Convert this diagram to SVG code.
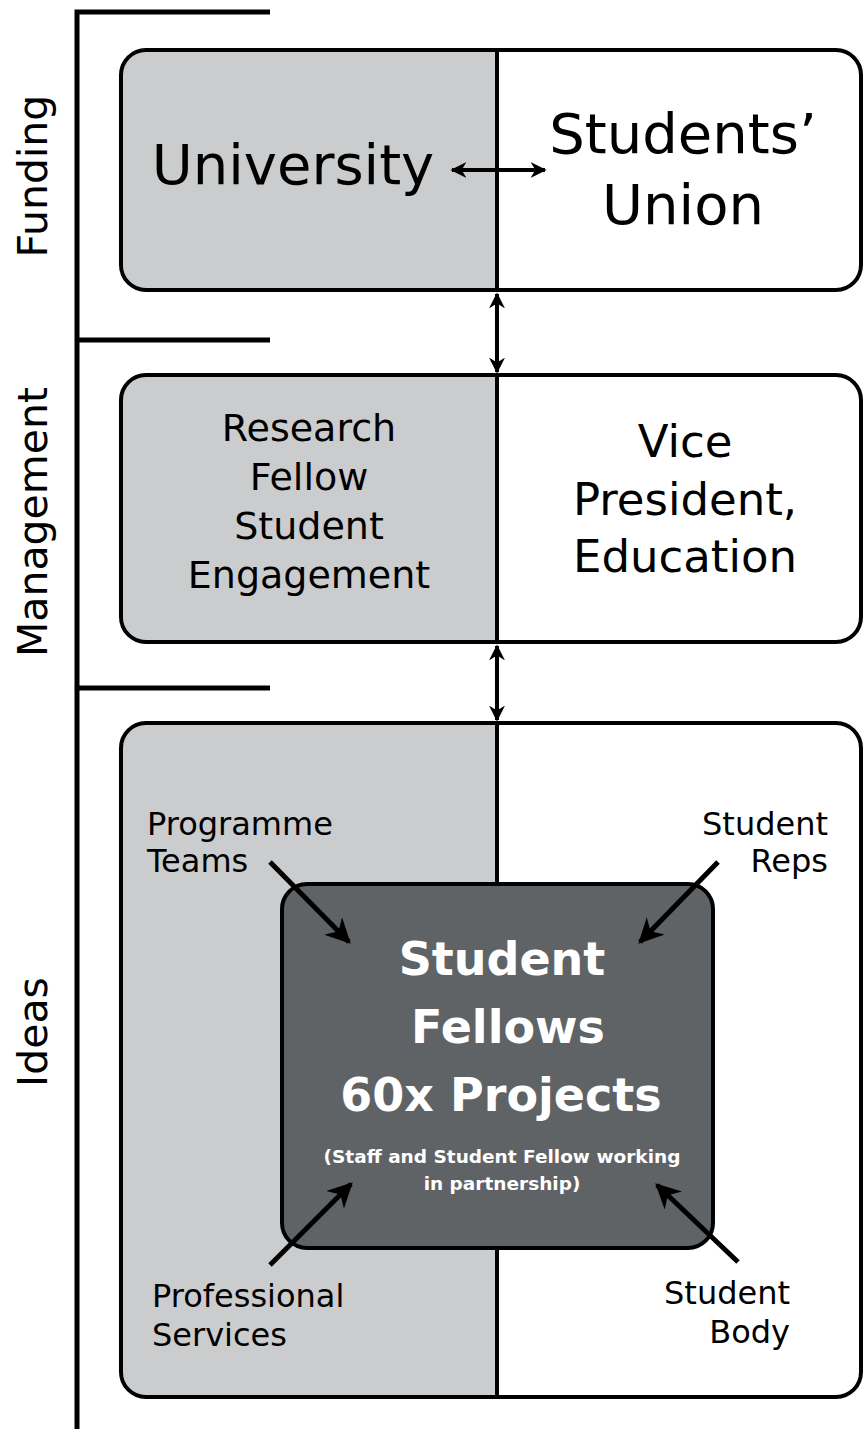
<svg xmlns="http://www.w3.org/2000/svg" width="865" height="1429" viewBox="0 0 865 1429">
<style>
.frame{stroke:#000;stroke-width:5;fill:none}
.left{fill:#cbcccd}
.outline{fill:none;stroke:#000;stroke-width:4}
.div{stroke:#000;stroke-width:4}
.t{font-family:"DejaVu Sans","Liberation Sans",Arial,sans-serif;fill:#000}
.side{font-size:41px}
.big{font-size:56px}
.mgl{font-size:38px}
.mgr{font-size:45px}
.sm{font-size:32px}
.w{fill:#fff;font-weight:bold}
.wb{font-size:46px}
.ws{font-size:18.5px}
.con{stroke:#000;stroke-width:5;fill:none}
.con2{stroke:#000;stroke-width:4;fill:none}
</style>
<defs>
<marker id="ah" viewBox="0 0 10 10" refX="9" refY="5" markerWidth="5" markerHeight="5" orient="auto-start-reverse" markerUnits="strokeWidth">
<path d="M0,0 L10,5 L0,10 L3,5 Z" fill="#000"/>
</marker>
<marker id="ah2" viewBox="0 0 10 10" refX="9" refY="5" markerWidth="4" markerHeight="4" orient="auto-start-reverse" markerUnits="strokeWidth">
<path d="M0,0 L10,5 L0,10 L3,5 Z" fill="#000"/>
</marker>
</defs>
<rect width="865" height="1429" fill="#fff"/>
<g id="frame">
<path class="frame" d="M77,1429 V12 H270 M77,340 H270 M77,688 H270"/>
<text class="t side" transform="translate(47,176) rotate(-90)" text-anchor="middle">Funding</text>
<text class="t side" transform="translate(47,522) rotate(-90)" text-anchor="middle">Management</text>
<text class="t side" transform="translate(47,1032) rotate(-90)" text-anchor="middle">Ideas</text>
</g>
<g id="funding">
<path class="left" d="M146,52 H497 V288 H146 A23,23 0 0 1 123,265 V75 A23,23 0 0 1 146,52 Z"/>
<rect class="outline" x="121" y="50" width="740" height="240" rx="25"/>
<line class="div" x1="497" y1="50" x2="497" y2="290"/>
<text class="t big" x="293" y="184" text-anchor="middle">University</text>
<text class="t big" x="683" y="153" text-anchor="middle">Students’</text>
<text class="t big" x="683" y="224" text-anchor="middle">Union</text>
</g>
<g id="management">
<path class="left" d="M146,377 H497 V640 H146 A23,23 0 0 1 123,617 V400 A23,23 0 0 1 146,377 Z"/>
<rect class="outline" x="121" y="375" width="740" height="267" rx="25"/>
<line class="div" x1="497" y1="375" x2="497" y2="642"/>
<text class="t mgl" x="309" y="441" text-anchor="middle">Research</text>
<text class="t mgl" x="309" y="490" text-anchor="middle">Fellow</text>
<text class="t mgl" x="309" y="539" text-anchor="middle">Student</text>
<text class="t mgl" x="309" y="588" text-anchor="middle">Engagement</text>
<text class="t mgr" x="685" y="457" text-anchor="middle">Vice</text>
<text class="t mgr" x="685" y="515" text-anchor="middle">President,</text>
<text class="t mgr" x="685" y="572" text-anchor="middle">Education</text>
</g>
<g id="ideas">
<path class="left" d="M146,725 H497 V1395 H146 A23,23 0 0 1 123,1372 V748 A23,23 0 0 1 146,725 Z"/>
<rect class="outline" x="121" y="723" width="740" height="674" rx="25"/>
<line class="div" x1="497" y1="723" x2="497" y2="1397"/>
<text class="t sm" x="147" y="835">Programme</text>
<text class="t sm" x="147" y="872">Teams</text>
<text class="t sm" x="828" y="835" text-anchor="end">Student</text>
<text class="t sm" x="828" y="872" text-anchor="end">Reps</text>
<text class="t sm" x="152" y="1307">Professional</text>
<text class="t sm" x="152" y="1346">Services</text>
<text class="t sm" x="790" y="1304" text-anchor="end">Student</text>
<text class="t sm" x="790" y="1343" text-anchor="end">Body</text>
</g>
<g id="fellows">
<rect x="282" y="884" width="431" height="364" rx="25" fill="#5f6366" stroke="#000" stroke-width="4"/>
<text class="t w wb" x="502" y="975" text-anchor="middle">Student</text>
<text class="t w wb" x="508" y="1043" text-anchor="middle">Fellows</text>
<text class="t w wb" x="501" y="1111" text-anchor="middle">60x Projects</text>
<text class="t w ws" x="502" y="1163" text-anchor="middle">(Staff and Student Fellow working</text>
<text class="t w ws" x="502" y="1190" text-anchor="middle">in partnership)</text>
</g>
<g id="connectors">
<line class="con2" x1="452" y1="170" x2="545" y2="170" marker-start="url(#ah2)" marker-end="url(#ah2)"/>
<line class="con2" x1="497" y1="294" x2="497" y2="372" marker-start="url(#ah2)" marker-end="url(#ah2)"/>
<line class="con2" x1="497" y1="646" x2="497" y2="720" marker-start="url(#ah2)" marker-end="url(#ah2)"/>
<line class="con" x1="270" y1="862" x2="349" y2="942" marker-end="url(#ah)"/>
<line class="con" x1="718" y1="862" x2="640" y2="942" marker-end="url(#ah)"/>
<line class="con" x1="270" y1="1265" x2="351" y2="1184" marker-end="url(#ah)"/>
<line class="con" x1="738" y1="1262" x2="657" y2="1185" marker-end="url(#ah)"/>
</g>
</svg>
